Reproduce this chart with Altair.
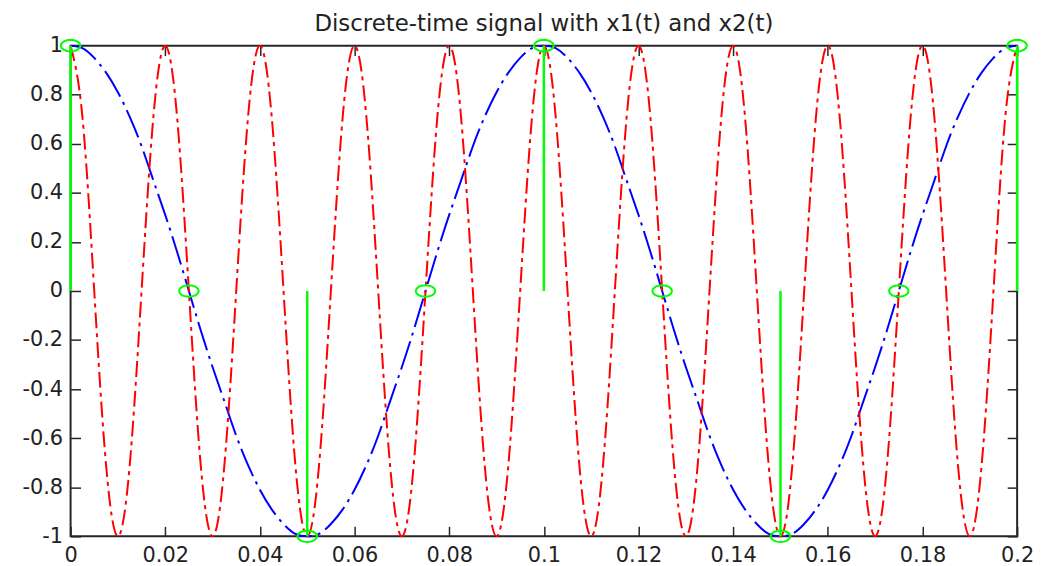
import altair as alt
import pandas as pd

# time axis (s)
t = [0.0, 0.0025, 0.005, 0.0075, 0.01, 0.0125, 0.015, 0.0175,
     0.02, 0.0225, 0.025, 0.0275, 0.03, 0.0325, 0.035, 0.0375,
     0.04, 0.0425, 0.045, 0.0475, 0.05, 0.0525, 0.055, 0.0575,
     0.06, 0.0625, 0.065, 0.0675, 0.07, 0.0725, 0.075, 0.0775,
     0.08, 0.0825, 0.085, 0.0875, 0.09, 0.0925, 0.095, 0.0975,
     0.1, 0.1025, 0.105, 0.1075, 0.11, 0.1125, 0.115, 0.1175,
     0.12, 0.1225, 0.125, 0.1275, 0.13, 0.1325, 0.135, 0.1375,
     0.14, 0.1425, 0.145, 0.1475, 0.15, 0.1525, 0.155, 0.1575,
     0.16, 0.1625, 0.165, 0.1675, 0.17, 0.1725, 0.175, 0.1775,
     0.18, 0.1825, 0.185, 0.1875, 0.19, 0.1925, 0.195, 0.1975,
     0.2]

# x1(t): slow blue signal
x1 = [1, 0.99, 0.95, 0.89, 0.81, 0.71, 0.59, 0.45,
      0.31, 0.16, 0, -0.16, -0.31, -0.45, -0.59, -0.71,
      -0.81, -0.89, -0.95, -0.99, -1, -0.99, -0.95, -0.89,
      -0.81, -0.71, -0.59, -0.45, -0.31, -0.16, 0, 0.16,
      0.31, 0.45, 0.59, 0.71, 0.81, 0.89, 0.95, 0.99,
      1, 0.99, 0.95, 0.89, 0.81, 0.71, 0.59, 0.45,
      0.31, 0.16, 0, -0.16, -0.31, -0.45, -0.59, -0.71,
      -0.81, -0.89, -0.95, -0.99, -1, -0.99, -0.95, -0.89,
      -0.81, -0.71, -0.59, -0.45, -0.31, -0.16, 0, 0.16,
      0.31, 0.45, 0.59, 0.71, 0.81, 0.89, 0.95, 0.99,
      1]

# x2(t): fast red signal
x2 = [1, 0.71, 0, -0.71, -1, -0.71, 0, 0.71,
      1, 0.71, 0, -0.71, -1, -0.71, 0, 0.71,
      1, 0.71, 0, -0.71, -1, -0.71, 0, 0.71,
      1, 0.71, 0, -0.71, -1, -0.71, 0, 0.71,
      1, 0.71, 0, -0.71, -1, -0.71, 0, 0.71,
      1, 0.71, 0, -0.71, -1, -0.71, 0, 0.71,
      1, 0.71, 0, -0.71, -1, -0.71, 0, 0.71,
      1, 0.71, 0, -0.71, -1, -0.71, 0, 0.71,
      1, 0.71, 0, -0.71, -1, -0.71, 0, 0.71,
      1, 0.71, 0, -0.71, -1, -0.71, 0, 0.71,
      1]

# discrete samples (stems)
n_t = [0, 0.025, 0.05, 0.075, 0.1, 0.125, 0.15, 0.175, 0.2]
xn = [1, 0, -1, 0, 1, 0, -1, 0, 1]

x_ticks = [0, 0.02, 0.04, 0.06, 0.08, 0.1, 0.12, 0.14, 0.16, 0.18, 0.2]
y_ticks = [-1, -0.8, -0.6, -0.4, -0.2, 0, 0.2, 0.4, 0.6, 0.8, 1]

sig = pd.DataFrame({"t": t, "x1": x1, "x2": x2})
samp = pd.DataFrame({"n": n_t, "xn": xn})

FONT = "DejaVu Sans"
AX = "#262626"
xs = alt.Scale(domain=[0, 0.2], nice=False, zero=False)
ys = alt.Scale(domain=[-1, 1], nice=False, zero=False)

common = dict(domain=False, grid=False, ticks=True, tickSize=10, offset=-10,
              tickColor=AX, tickWidth=1.5, title=None)

ax_bottom = alt.Axis(orient="bottom", values=x_ticks, labelExpr="'' + datum.value",
                     labelFont=FONT, labelFontSize=21, labelColor="#222",
                     labelPadding=8, labelFlush=False, labelOverlap=False, **common)
ax_left = alt.Axis(orient="left", values=y_ticks, labelExpr="'' + datum.value",
                   labelFont=FONT, labelFontSize=21, labelColor="#222",
                   labelPadding=8, labelOverlap=False, **common)
ax_top = alt.Axis(orient="top", values=x_ticks, labels=False, **common)
ax_right = alt.Axis(orient="right", values=y_ticks, labels=False, **common)

blue = alt.Chart(sig).mark_line(
    color="#0000ff", strokeWidth=2, strokeDash=[30, 6, 3, 6], interpolate="natural"
).encode(
    x=alt.X("t:Q", scale=xs, axis=ax_bottom),
    y=alt.Y("x1:Q", scale=ys, axis=ax_left),
)

red = alt.Chart(sig).mark_line(
    color="#ff0000", strokeWidth=2, strokeDash=[16, 5, 4, 5], interpolate="natural"
).encode(
    x=alt.X("t:Q", scale=xs, axis=ax_top),
    y=alt.Y("x2:Q", scale=ys, axis=ax_right),
)

stems = alt.Chart(samp).mark_rule(color="#00ff00", strokeWidth=2.5).encode(
    x=alt.X("n:Q", scale=xs, axis=None),
    y=alt.Y("xn:Q", scale=ys, axis=None),
    y2=alt.datum(0),
)

ELLIPSE = ("M1.7,0 L1.571,0.383 L1.202,0.707 L0.651,0.924 L0,1 L-0.651,0.924 "
           "L-1.202,0.707 L-1.571,0.383 L-1.7,0 L-1.571,-0.383 L-1.202,-0.707 "
           "L-0.651,-0.924 L0,-1 L0.651,-0.924 L1.202,-0.707 L1.571,-0.383 Z")

pts = alt.Chart(samp).mark_point(
    shape=ELLIPSE, size=135, filled=False, color="#00ff00", strokeWidth=2, opacity=1
).encode(
    x=alt.X("n:Q", scale=xs, axis=None),
    y=alt.Y("xn:Q", scale=ys, axis=None),
)

chart = alt.layer(blue, red, stems, pts).resolve_axis(
    x="independent", y="independent"
).properties(
    width=953,
    height=494,
    autosize=alt.AutoSizeParams(type="none"),
    padding={"left": 63, "top": 36, "right": 20, "bottom": 28},
    title=alt.TitleParams(
        "Discrete-time signal with x1(t) and x2(t)",
        font=FONT, fontSize=23, fontWeight="normal", color="#222",
        anchor="middle", offset=-1,
    ),
    background="white",
).configure_view(stroke=AX, strokeWidth=2)

chart.save("out.html", embed_options={"renderer": "svg", "actions": False})
